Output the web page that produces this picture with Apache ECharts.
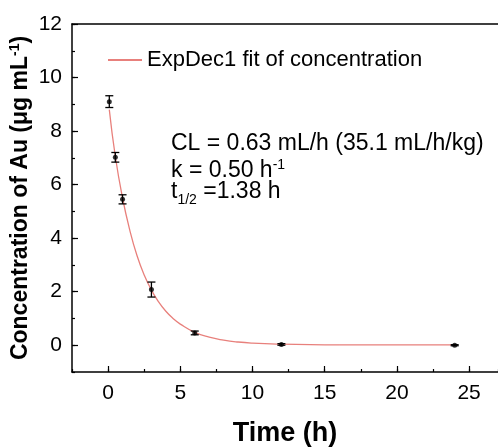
<!DOCTYPE html>
<html>
<head>
<meta charset="utf-8">
<script src="https://cdn.jsdelivr.net/npm/echarts@6/dist/echarts.min.js"></script>
<style>
html,body{margin:0;padding:0;background:#fff;}
#chart{width:498px;height:447px;}
</style>
</head>
<body>
<div id="chart"></div>
<script>
// measured data (time in h, concentration in ug/mL, error = SD)
const timeH = [0.083, 0.5, 1, 3, 6, 12, 24];
const concentration = [9.10, 7.02, 5.45, 2.08, 0.46, 0.03, 0.00];
const errorSD = [0.22, 0.18, 0.17, 0.28, 0.07, 0.03, 0.02];

// fitted curve
const fitTime  = [0.083, 0.5, 1, 1.5, 2, 2.5, 3, 3.5, 4, 4.5, 5, 6, 7, 8, 9, 10, 12, 14, 16, 20, 24];
const fitValue = [8.80, 7.05, 5.50, 4.30, 3.35, 2.62, 2.06, 1.62, 1.27, 1.00, 0.79, 0.48, 0.30, 0.19, 0.12, 0.08, 0.04, 0.02, 0.015, 0.01, 0.01];

// axis ticks
const xMajorTicks = [0, 5, 10, 15, 20, 25];
const yMajorTicks = [0, 2, 4, 6, 8, 10, 12];

const legendLabel = 'ExpDec1 fit of concentration';

const FONT = '"Liberation Sans", Arial, sans-serif';
const fitColor = '#e8807c';

const chart = echarts.init(document.getElementById('chart'));

const pointData = timeH.map((t, i) => [t, concentration[i]]);
const errData = timeH.map((t, i) => [t, concentration[i] - errorSD[i], concentration[i] + errorSD[i]]);
const fitData = fitTime.map((t, i) => [t, fitValue[i]]);

const option = {
  animation: false,
  backgroundColor: '#fff',
  textStyle: { fontFamily: FONT },
  grid: { left: 72, top: 24, right: 0, bottom: 75, containLabel: false, outerBoundsMode: 'none' },
  xAxis: [
    {
      type: 'value', min: -2.5, max: 27, interval: 2.5,
      position: 'bottom',
      axisLine: { show: true, onZero: false, lineStyle: { color: '#000', width: 1.5 } },
      axisTick: { show: true, inside: true, length: 3, lineStyle: { color: '#000', width: 1.2 } },
      axisLabel: { show: false },
      splitLine: { show: false },
      name: 'Time (h)', nameLocation: 'middle', nameGap: 48,
      nameTextStyle: { fontSize: 27, fontWeight: 'bold', color: '#000', fontFamily: FONT }
    },
    {
      type: 'value', min: -2.5, max: 27,
      position: 'bottom',
      axisLine: { show: false, onZero: false },
      axisTick: { show: true, inside: true, length: 6, customValues: xMajorTicks, lineStyle: { color: '#000', width: 1.2 } },
      axisLabel: { show: true, customValues: xMajorTicks, fontSize: 21, color: '#000', margin: 11, fontFamily: FONT },
      splitLine: { show: false }
    },
    {
      type: 'value', min: -2.5, max: 27,
      position: 'top',
      axisLine: { show: true, onZero: false, lineStyle: { color: '#000', width: 1.5 } },
      axisTick: { show: false }, axisLabel: { show: false }, splitLine: { show: false }
    }
  ],
  yAxis: [
    {
      type: 'value', min: -1, max: 12, interval: 1,
      position: 'left',
      axisLine: { show: true, onZero: false, lineStyle: { color: '#000', width: 1.5 } },
      axisTick: { show: true, inside: true, length: 3, lineStyle: { color: '#000', width: 1.2 } },
      axisLabel: { show: false },
      splitLine: { show: false },
      name: 'Concentration of Au (μg mL{sup|-1})', nameLocation: 'middle', nameGap: 38,
      nameTextStyle: {
        fontSize: 23, fontWeight: 'bold', color: '#000', fontFamily: FONT,
        rich: { sup: { fontSize: 14, fontWeight: 'bold', verticalAlign: 'top', lineHeight: 26, fontFamily: FONT, color: '#000' } }
      }
    },
    {
      type: 'value', min: -1, max: 12,
      position: 'left',
      axisLine: { show: false, onZero: false },
      axisTick: { show: true, inside: true, length: 6, customValues: yMajorTicks, lineStyle: { color: '#000', width: 1.2 } },
      axisLabel: { show: true, customValues: yMajorTicks, fontSize: 21, color: '#000', margin: 10, fontFamily: FONT },
      splitLine: { show: false }
    }
  ],
  legend: {
    show: true, left: 103, top: 44,
    itemWidth: 34, itemHeight: 2, itemGap: 10,
    icon: 'rect',
    data: [legendLabel],
    textStyle: { fontSize: 22, color: '#000', fontFamily: FONT }
  },
  series: [
    {
      name: legendLabel, type: 'line', data: fitData,
      xAxisIndex: 0, yAxisIndex: 0,
      smooth: true, showSymbol: false, symbol: 'none',
      lineStyle: { color: fitColor, width: 1.3 },
      itemStyle: { color: fitColor },
      z: 2
    },
    {
      name: 'errors', type: 'custom', data: errData,
      xAxisIndex: 0, yAxisIndex: 0,
      renderItem: function (params, api) {
        const x = api.value(0);
        const pLo = api.coord([x, api.value(1)]);
        const pHi = api.coord([x, api.value(2)]);
        const hw = 4;
        const st = { stroke: '#000', lineWidth: 1.3 };
        return {
          type: 'group',
          children: [
            { type: 'line', shape: { x1: pLo[0], y1: pLo[1], x2: pHi[0], y2: pHi[1] }, style: st },
            { type: 'line', shape: { x1: pHi[0] - hw, y1: pHi[1], x2: pHi[0] + hw, y2: pHi[1] }, style: st },
            { type: 'line', shape: { x1: pLo[0] - hw, y1: pLo[1], x2: pLo[0] + hw, y2: pLo[1] }, style: st }
          ]
        };
      },
      z: 3
    },
    {
      name: 'points', type: 'scatter', data: pointData,
      xAxisIndex: 0, yAxisIndex: 0,
      symbol: 'circle', symbolSize: 5,
      itemStyle: { color: '#000' },
      z: 4
    }
  ],
  graphic: [
    {
      type: 'text', left: 171, top: 132,
      style: { text: 'CL = 0.63 mL/h (35.1 mL/h/kg)', fontSize: 23, fill: '#000', fontFamily: FONT }
    },
    {
      type: 'text', left: 171, top: 158,
      style: {
        text: 'k = 0.50 h{sup|-1}', fontSize: 23, fill: '#000', fontFamily: FONT,
        rich: {
          sup: { fontSize: 14, verticalAlign: 'top', lineHeight: 25, fontFamily: FONT }
        }
      }
    },
    {
      type: 'text', left: 171, top: 180,
      style: {
        text: 't{sub|1/2} =1.38 h', fontSize: 23, fill: '#000', fontFamily: FONT,
        rich: {
          sub: { fontSize: 14, verticalAlign: 'bottom', lineHeight: 31, fontFamily: FONT }
        }
      }
    }
  ]
};

chart.setOption(option);
</script>
</body>
</html>
